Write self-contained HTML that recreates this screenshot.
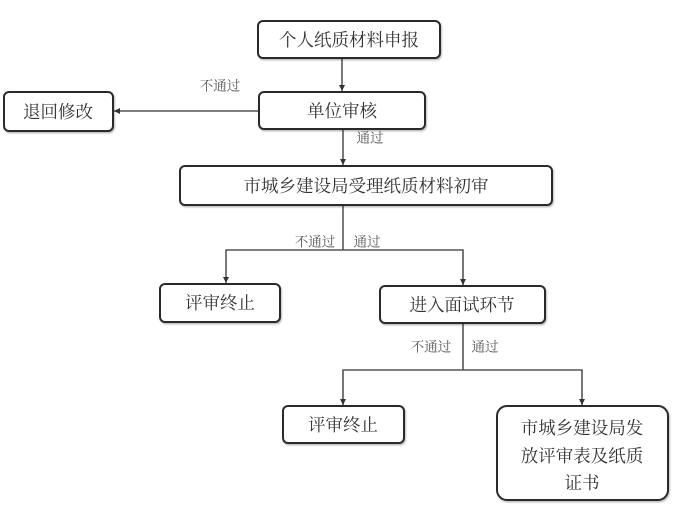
<!DOCTYPE html>
<html>
<head>
<meta charset="utf-8">
<style>
html,body{margin:0;padding:0;background:#fff;}
body{width:677px;height:511px;overflow:hidden;}
svg{display:block;}
.box{fill:#fff;stroke:#2a2a2a;stroke-width:2;}
.t{font-family:"Liberation Serif","Noto Serif CJK SC","Noto Sans CJK SC",serif;font-size:17.5px;fill:#333;text-anchor:middle;dominant-baseline:central;}
.l{font-family:"Liberation Serif","Noto Serif CJK SC","Noto Sans CJK SC",serif;font-size:13.5px;fill:#555;text-anchor:middle;dominant-baseline:central;}
.ln{stroke:#333;stroke-width:1.3;fill:none;}
.ln2{stroke:#555;stroke-width:1.6;fill:none;}
</style>
</head>
<body>
<svg width="677" height="511" viewBox="0 0 677 511" xmlns="http://www.w3.org/2000/svg">
<defs>
<marker id="ar" markerWidth="8" markerHeight="8" refX="6" refY="4" orient="auto" markerUnits="userSpaceOnUse">
<path d="M0,1 L6,4 L0,7 Z" fill="#333"/>
</marker>
<filter id="sh" x="-10%" y="-10%" width="120%" height="130%">
<feDropShadow dx="1" dy="1.5" stdDeviation="0.8" flood-color="#000" flood-opacity="0.25"/>
</filter>
</defs>

<!-- connectors -->
<line class="ln" x1="342" y1="58" x2="342" y2="91" marker-end="url(#ar)"/>
<line class="ln" x1="259" y1="111" x2="114" y2="111" marker-end="url(#ar)"/>
<line class="ln" x1="343" y1="129" x2="343" y2="165" marker-end="url(#ar)"/>
<polyline class="ln" points="343,205 343,250"/>
<polyline class="ln" points="343,250 226,250 226,283" marker-end="url(#ar)"/>
<polyline class="ln2" points="343,250 463,250 463,285" marker-end="url(#ar)"/>
<polyline class="ln2" points="463,323 463,370"/>
<polyline class="ln2" points="463,370 343,370 343,405" marker-end="url(#ar)"/>
<polyline class="ln2" points="463,370 582,370 582,405" marker-end="url(#ar)"/>

<!-- boxes -->
<g filter="url(#sh)">
<rect class="box" x="258" y="21" width="182" height="37" rx="5"/>
<rect class="box" x="259" y="92" width="166" height="37" rx="5"/>
<rect class="box" x="4" y="92" width="109" height="39" rx="5"/>
<rect class="box" x="180" y="166" width="372" height="39" rx="5"/>
<rect class="box" x="160" y="284" width="120" height="38" rx="5"/>
<rect class="box" x="380" y="286" width="165" height="37" rx="5"/>
<rect class="box" x="283" y="406" width="121" height="37" rx="5"/>
<rect class="box" x="497" y="406" width="171" height="94" rx="10"/>
</g>

<!-- box text -->
<text class="t" x="349" y="40">个人纸质材料申报</text>
<text class="t" x="342" y="111">单位审核</text>
<text class="t" x="58" y="112">退回修改</text>
<text class="t" x="366" y="186">市城乡建设局受理纸质材料初审</text>
<text class="t" x="220" y="303">评审终止</text>
<text class="t" x="462" y="305">进入面试环节</text>
<text class="t" x="343" y="425">评审终止</text>
<text class="t" x="582" y="428">市城乡建设局发</text>
<text class="t" x="582" y="456">放评审表及纸质</text>
<text class="t" x="582" y="483">证书</text>

<!-- labels -->
<text class="l" x="220" y="86">不通过</text>
<text class="l" x="370" y="138">通过</text>
<text class="l" x="315" y="242">不通过</text>
<text class="l" x="367" y="242">通过</text>
<text class="l" x="431" y="347">不通过</text>
<text class="l" x="485" y="347">通过</text>
</svg>
</body>
</html>
